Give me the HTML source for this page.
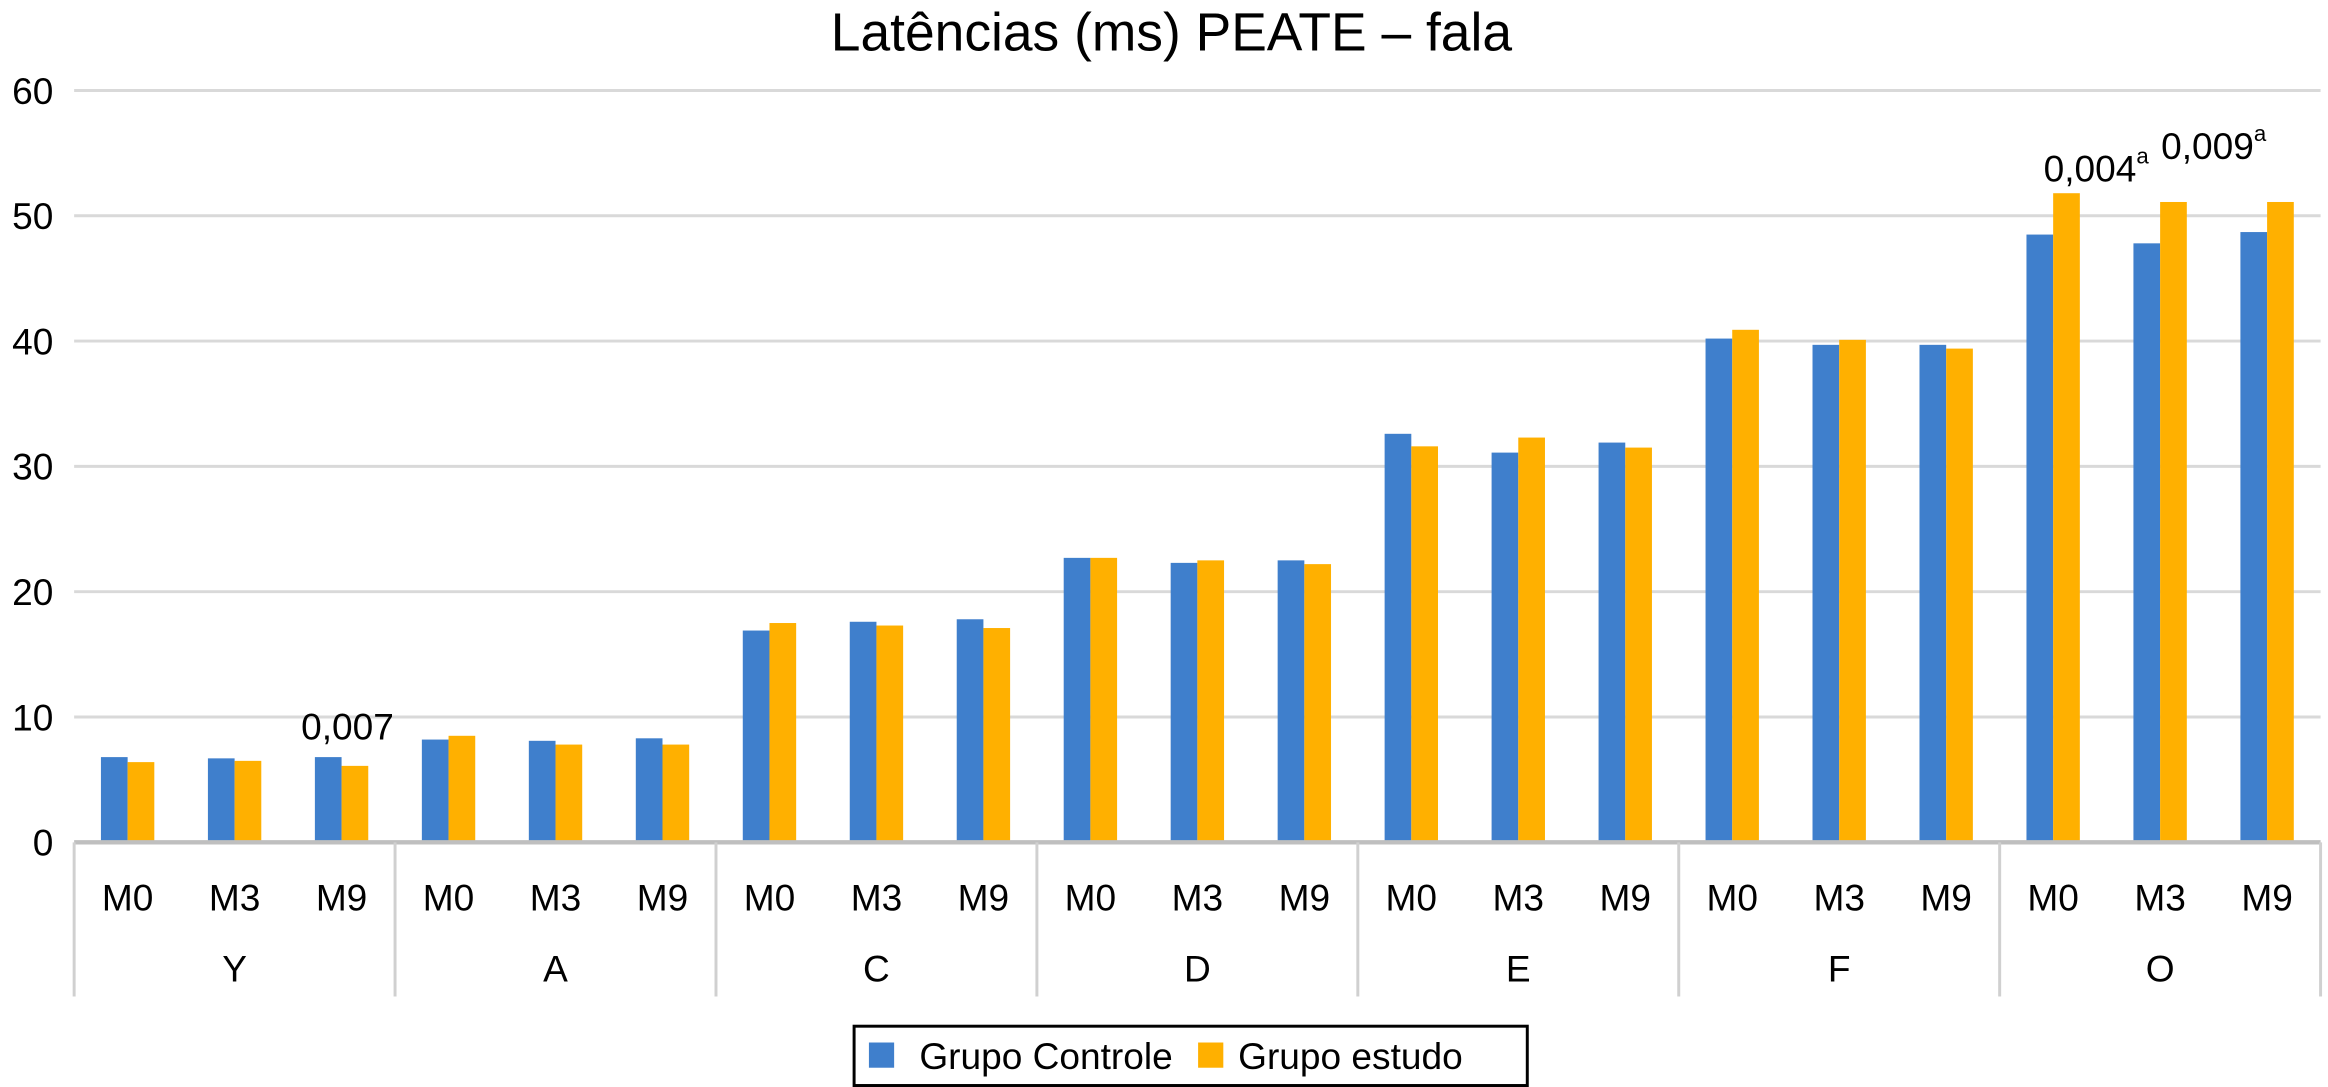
<!DOCTYPE html>
<html><head><meta charset="utf-8"><style>
html,body{margin:0;padding:0;background:#fff;}
svg{display:block;font-family:"Liberation Sans",Arial,sans-serif;}
</style></head><body>
<svg id="chart" width="2328" height="1087" viewBox="0 0 1570 733" preserveAspectRatio="none" xmlns="http://www.w3.org/2000/svg">
<text x="790" y="34" font-size="36" text-anchor="middle" fill="#000">Latências (ms) PEATE – fala</text>
<g id="grid"></g><g id="bars"></g><g id="xaxis"></g><g id="ann"></g>
<g>
<rect x="576" y="692" width="454" height="40" fill="#fff" stroke="#000" stroke-width="2"/>
<rect x="586" y="703" width="17" height="17" fill="#3F7FCC"/>
<text x="620" y="721" font-size="25">Grupo Controle</text>
<rect x="808" y="703" width="17" height="17" fill="#FFB000"/>
<text x="835" y="721" font-size="25">Grupo estudo</text>
</g>
</svg>
<script>
const groups = ['Y','A','C','D','E','F','O'];
const moments = ['M0','M3','M9'];
const controle = [6.8,6.7,6.8, 8.2,8.1,8.3, 16.9,17.6,17.8, 22.7,22.3,22.5, 32.6,31.1,31.9, 40.2,39.7,39.7, 48.5,47.8,48.7];
const estudo = [6.4,6.5,6.1, 8.5,7.8,7.8, 17.5,17.3,17.1, 22.7,22.5,22.2, 31.6,32.3,31.5, 40.9,40.1,39.4, 51.8,51.1,51.1];
const yTicks = [0,10,20,30,40,50,60];
const annIdx = [2,18,20];
const annText = ['0,007','0,004','0,009'];
const annSup = ['','a','a'];
const annLift = [12,8,29];
const annShift = [4,29,-36];

const NS='http://www.w3.org/2000/svg';
const X0=50,X1=1565,Y0=568,Ytop=61,YMAX=60;
const n=controle.length, slot=(X1-X0)/n, bw=18;
const yS=v=>Y0-(v/YMAX)*(Y0-Ytop);
const xC=i=>X0+slot*(i+0.5);
function mk(t,a,p){const e=document.createElementNS(NS,t);for(const k in a)e.setAttribute(k,a[k]);p.appendChild(e);return e;}
const grid=document.getElementById('grid'),bars=document.getElementById('bars'),xa=document.getElementById('xaxis'),ann=document.getElementById('ann');
yTicks.forEach(v=>{
  if(v>0){const l=mk('line',{x1:X0,x2:X1,y1:yS(v),y2:yS(v),stroke:'#d9d9d9','stroke-width':2},grid);
  
  }
  const t=mk('text',{x:36,y:yS(v)+9,'font-size':25,'text-anchor':'end'},grid);t.textContent=v;
  
  
});
for(let i=0;i<n;i++){
  const g=groups[Math.floor(i/3)], m=moments[i%3];
  const b=mk('rect',{x:xC(i)-bw,y:yS(controle[i]),width:bw,height:Y0-yS(controle[i]),fill:'#3F7FCC'},bars);
  
  
  const o=mk('rect',{x:xC(i),y:yS(estudo[i]),width:bw,height:Y0-yS(estudo[i]),fill:'#FFB000'},bars);
  
  
  const t=mk('text',{x:xC(i),y:614,'font-size':25,'text-anchor':'middle'},xa);t.textContent=m;
  
  
}
const ax=mk('line',{x1:X0,x2:X1,y1:Y0,y2:Y0,stroke:'#bfbfbf','stroke-width':3},xa);


for(let gI=0;gI<=groups.length;gI++){
  const x=X0+slot*3*gI;
  const l=mk('line',{x1:x,x2:x,y1:Y0,y2:672,stroke:'#d0d0d0','stroke-width':2},xa);
  
  
  if(gI<groups.length){
    const t=mk('text',{x:x+slot*1.5,y:662,'font-size':25,'text-anchor':'middle'},xa);t.textContent=groups[gI];
    
    
  }
}
annIdx.forEach((idx,k)=>{
  const top=Math.max(controle[idx],estudo[idx]);
  const t=mk('text',{x:xC(idx)+annShift[k],y:yS(top)-annLift[k],'font-size':25,'text-anchor':'middle'},ann);
  t.textContent=annText[k];
  
  
  if(annSup[k]){
    const s=mk('tspan',{'font-size':15,dy:-12},t);s.textContent=annSup[k];
  }
});
</script>
</body></html>
